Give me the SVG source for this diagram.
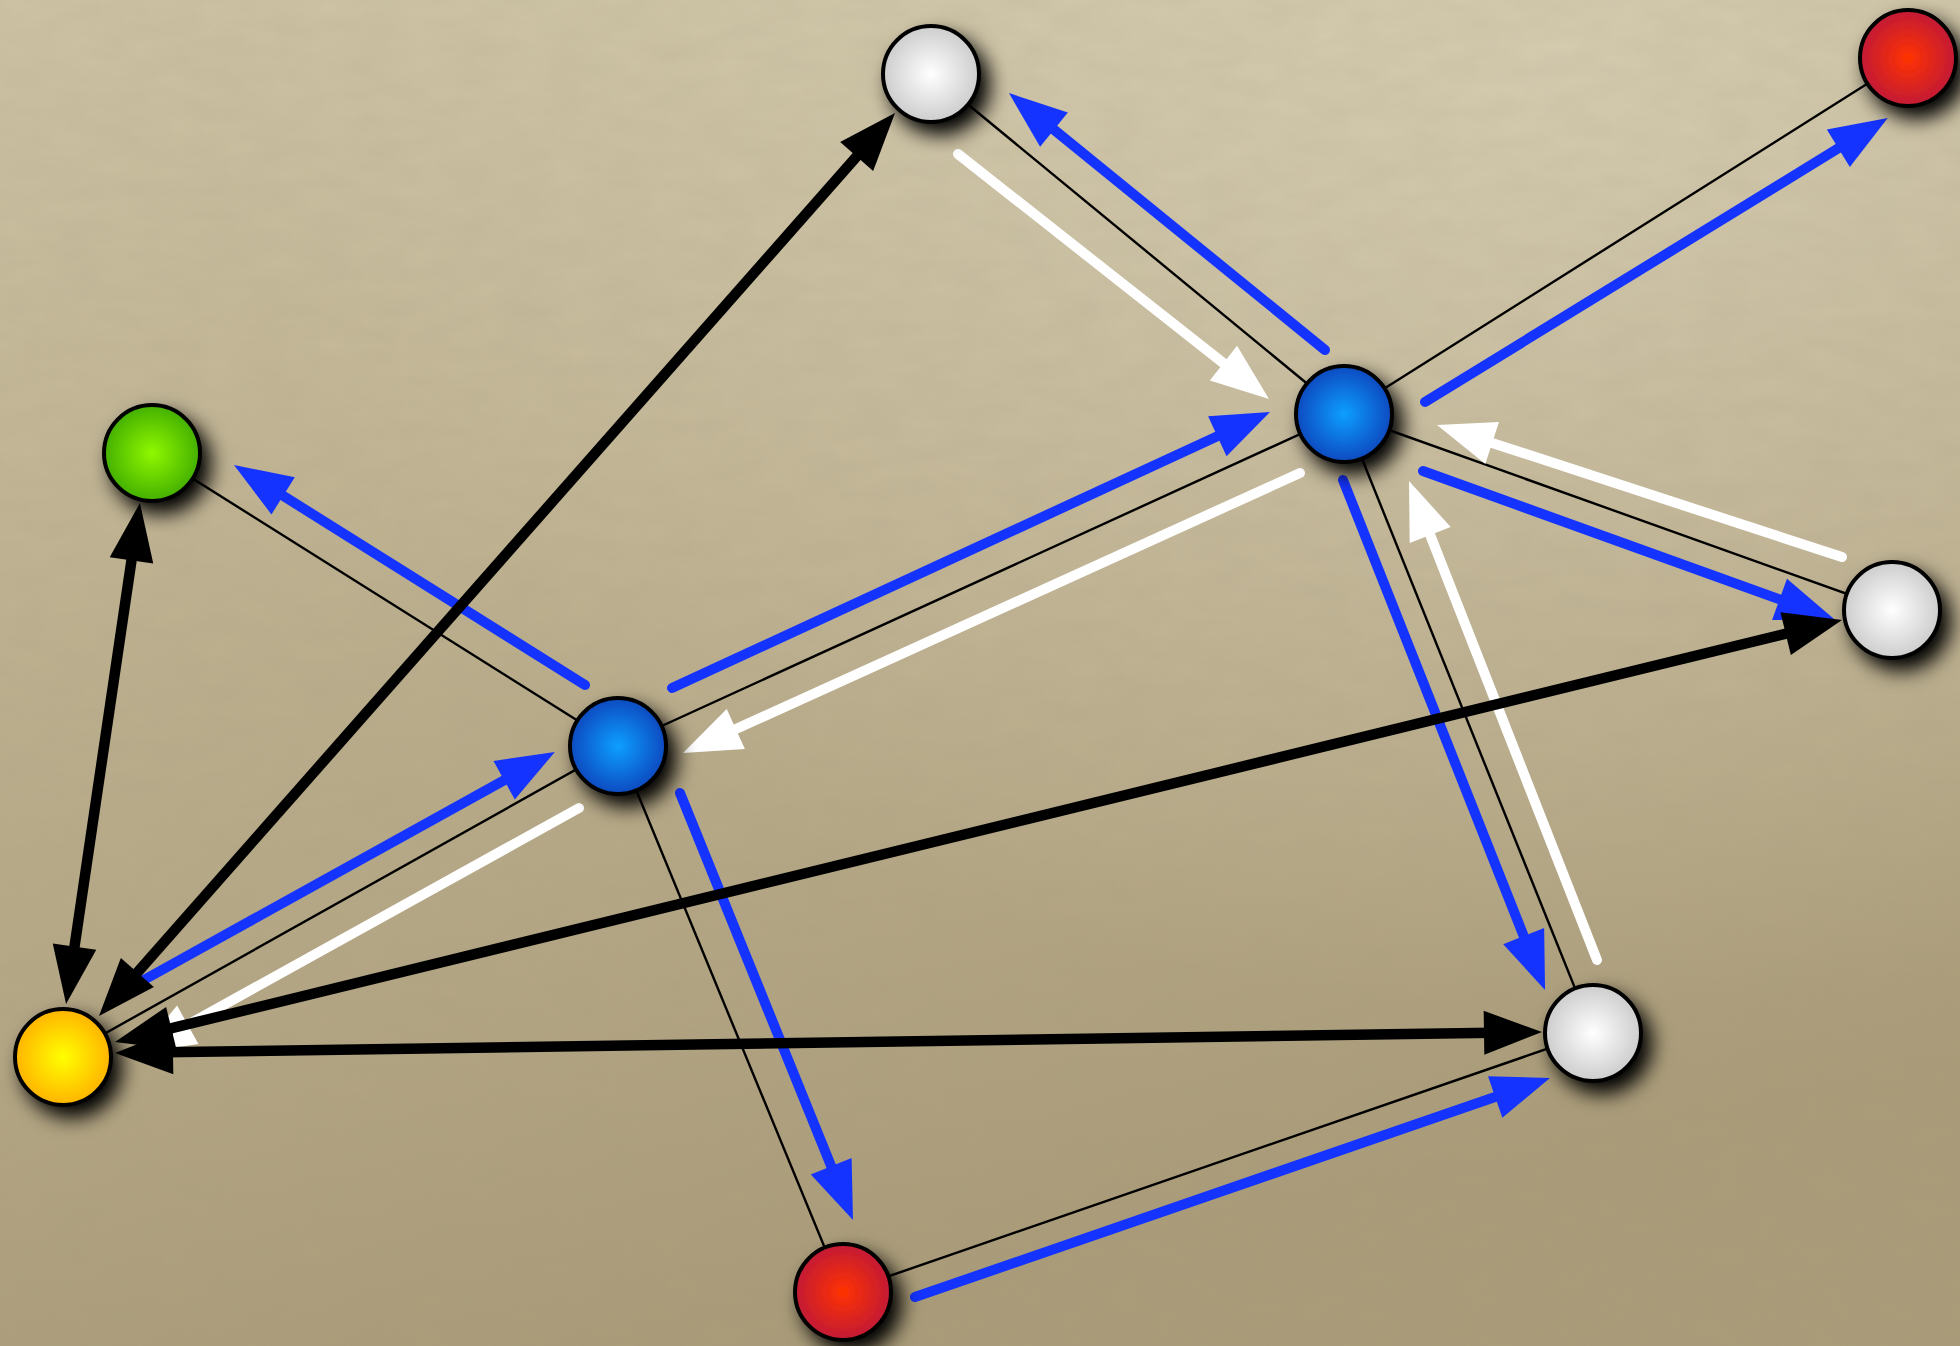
<svg xmlns="http://www.w3.org/2000/svg" width="1960" height="1346" viewBox="0 0 1960 1346">
  <defs>
    <linearGradient id="bg" x1="0" y1="0" x2="0.3" y2="1">
      <stop offset="0" stop-color="#cdc3a4"/>
      <stop offset="0.5" stop-color="#bbae8d"/>
      <stop offset="1" stop-color="#aa9c79"/>
    </linearGradient>
    <radialGradient id="bgl" cx="0.8" cy="0.05" r="0.7">
      <stop offset="0" stop-color="#e2dac2" stop-opacity="0.55"/>
      <stop offset="1" stop-color="#e2dac2" stop-opacity="0"/>
    </radialGradient>
    <filter id="noise" x="0" y="0" width="100%" height="100%">
      <feTurbulence type="fractalNoise" baseFrequency="0.02 0.05" numOctaves="3" seed="4"/>
      <feColorMatrix type="matrix" values="0 0 0 0 0.35  0 0 0 0 0.3  0 0 0 0 0.2  0 0 0 0.35 -0.05"/>
    </filter>
    <filter id="shadow" x="-60%" y="-60%" width="220%" height="220%">
      <feGaussianBlur in="SourceAlpha" stdDeviation="10"/>
      <feOffset dx="9" dy="11" result="b"/>
      <feComponentTransfer><feFuncA type="linear" slope="1"/></feComponentTransfer>
      <feMerge><feMergeNode/><feMergeNode in="SourceGraphic"/></feMerge>
    </filter>
    <radialGradient id="gWhite" cx="0.5" cy="0.5" r="0.5">
      <stop offset="0" stop-color="#ffffff"/>
      <stop offset="1" stop-color="#cdcdcd"/>
    </radialGradient>
    <radialGradient id="gBlue" cx="0.5" cy="0.5" r="0.5">
      <stop offset="0" stop-color="#0a9fff"/>
      <stop offset="1" stop-color="#0a4ac0"/>
    </radialGradient>
    <radialGradient id="gRed" cx="0.5" cy="0.5" r="0.5">
      <stop offset="0" stop-color="#ff3300"/>
      <stop offset="1" stop-color="#c21a36"/>
    </radialGradient>
    <radialGradient id="gGreen" cx="0.5" cy="0.5" r="0.5">
      <stop offset="0" stop-color="#90f800"/>
      <stop offset="1" stop-color="#44b000"/>
    </radialGradient>
    <radialGradient id="gYellow" cx="0.5" cy="0.5" r="0.5">
      <stop offset="0" stop-color="#ffff00"/>
      <stop offset="1" stop-color="#ffb400"/>
    </radialGradient>
    <marker id="mBlue" markerUnits="userSpaceOnUse" markerWidth="64" markerHeight="50" viewBox="-2 -25 64 50" refX="9" refY="0" orient="auto-start-reverse">
      <path d="M0,-22 L58,0 L0,22 Z" fill="#1433ff"/>
    </marker>
    <marker id="mWhite" markerUnits="userSpaceOnUse" markerWidth="64" markerHeight="50" viewBox="-2 -25 64 50" refX="9" refY="0" orient="auto-start-reverse">
      <path d="M0,-22 L58,0 L0,22 Z" fill="#ffffff"/>
    </marker>
    <marker id="mBlack" markerUnits="userSpaceOnUse" markerWidth="64" markerHeight="50" viewBox="-2 -25 64 50" refX="9" refY="0" orient="auto-start-reverse">
      <path d="M0,-22 L58,0 L0,22 Z" fill="#000000"/>
    </marker>
    <style>
      .link { stroke: #000; stroke-width: 2.4; fill: none; }
      .blue { stroke: #1433ff; stroke-width: 10; stroke-linecap: round; fill: none; marker-end: url(#mBlue); }
      .white { stroke: #ffffff; stroke-width: 10; stroke-linecap: round; fill: none; marker-end: url(#mWhite); }
      .black { stroke: #000; stroke-width: 10.5; fill: none; marker-start: url(#mBlack); marker-end: url(#mBlack); }
      .node circle { stroke: #000; stroke-width: 4; }
    </style>
  </defs>

  <rect width="1960" height="1346" fill="url(#bg)"/>
  <rect width="1960" height="1346" fill="url(#bgl)"/>
  <rect width="1960" height="1346" filter="url(#noise)" opacity="0.5"/>

  <g id="connectors">
    <g id="links">
      <line class="link" x1="931" y1="74" x2="1344" y2="414"/>
      <line class="link" x1="1908" y1="58" x2="1344" y2="414"/>
      <line class="link" x1="1344" y1="414" x2="1892" y2="610"/>
      <line class="link" x1="1344" y1="414" x2="1593" y2="1033"/>
      <line class="link" x1="1344" y1="414" x2="618" y2="746"/>
      <line class="link" x1="618" y1="746" x2="152" y2="453"/>
      <line class="link" x1="618" y1="746" x2="63" y2="1057"/>
      <line class="link" x1="618" y1="746" x2="843" y2="1292"/>
      <line class="link" x1="843" y1="1292" x2="1593" y2="1033"/>
    </g>
    <g id="blue-arrows">
      <line class="blue" x1="1325" y1="350" x2="1047" y2="124"/>
      <line class="blue" x1="1425" y1="402" x2="1846" y2="143.6"/>
      <line class="blue" x1="1423" y1="471" x2="1788" y2="602.4"/>
      <line class="blue" x1="1343" y1="480" x2="1527" y2="944.4"/>
      <line class="blue" x1="672" y1="688" x2="1225.5" y2="432.5"/>
      <line class="blue" x1="585" y1="685" x2="275.5" y2="491"/>
      <line class="blue" x1="680" y1="793" x2="834.6" y2="1174.6"/>
      <line class="blue" x1="142" y1="981" x2="512" y2="775.8"/>
      <line class="blue" x1="915" y1="1297" x2="1503.7" y2="1094"/>
    </g>
    <g id="white-arrows">
      <line class="white" x1="958" y1="154" x2="1230.5" y2="368.7"/>
      <line class="white" x1="1842" y1="557" x2="1483.6" y2="440.2"/>
      <line class="white" x1="1597" y1="960" x2="1426.9" y2="526.6"/>
      <line class="white" x1="1300" y1="473" x2="727.6" y2="732.8"/>
      <line class="white" x1="579" y1="808" x2="179.9" y2="1029.2"/>
    </g>
    <g id="black-arrows">
      <line class="black" x1="131.4" y1="979.2" x2="862.6" y2="149.8"/>
      <line class="black" x1="73.2" y1="955.5" x2="132.8" y2="551.5"/>
      <line class="black" x1="162.6" y1="1030.4" x2="1794.4" y2="631.6"/>
      <line class="black" x1="164" y1="1052.3" x2="1493" y2="1032.7"/>
    </g>
  </g>

  <g id="node-white-top" class="node" filter="url(#shadow)"><circle cx="931" cy="74" r="48" fill="url(#gWhite)"/></g>
  <g id="node-red-topright" class="node" filter="url(#shadow)"><circle cx="1908" cy="58" r="48" fill="url(#gRed)"/></g>
  <g id="node-green" class="node" filter="url(#shadow)"><circle cx="152" cy="453" r="48" fill="url(#gGreen)"/></g>
  <g id="node-blue-left" class="node" filter="url(#shadow)"><circle cx="618" cy="746" r="48" fill="url(#gBlue)"/></g>
  <g id="node-blue-right" class="node" filter="url(#shadow)"><circle cx="1344" cy="414" r="48" fill="url(#gBlue)"/></g>
  <g id="node-white-right" class="node" filter="url(#shadow)"><circle cx="1892" cy="610" r="48" fill="url(#gWhite)"/></g>
  <g id="node-white-bottomright" class="node" filter="url(#shadow)"><circle cx="1593" cy="1033" r="48" fill="url(#gWhite)"/></g>
  <g id="node-yellow" class="node" filter="url(#shadow)"><circle cx="63" cy="1057" r="48" fill="url(#gYellow)"/></g>
  <g id="node-red-bottom" class="node" filter="url(#shadow)"><circle cx="843" cy="1292" r="48" fill="url(#gRed)"/></g>
</svg>
